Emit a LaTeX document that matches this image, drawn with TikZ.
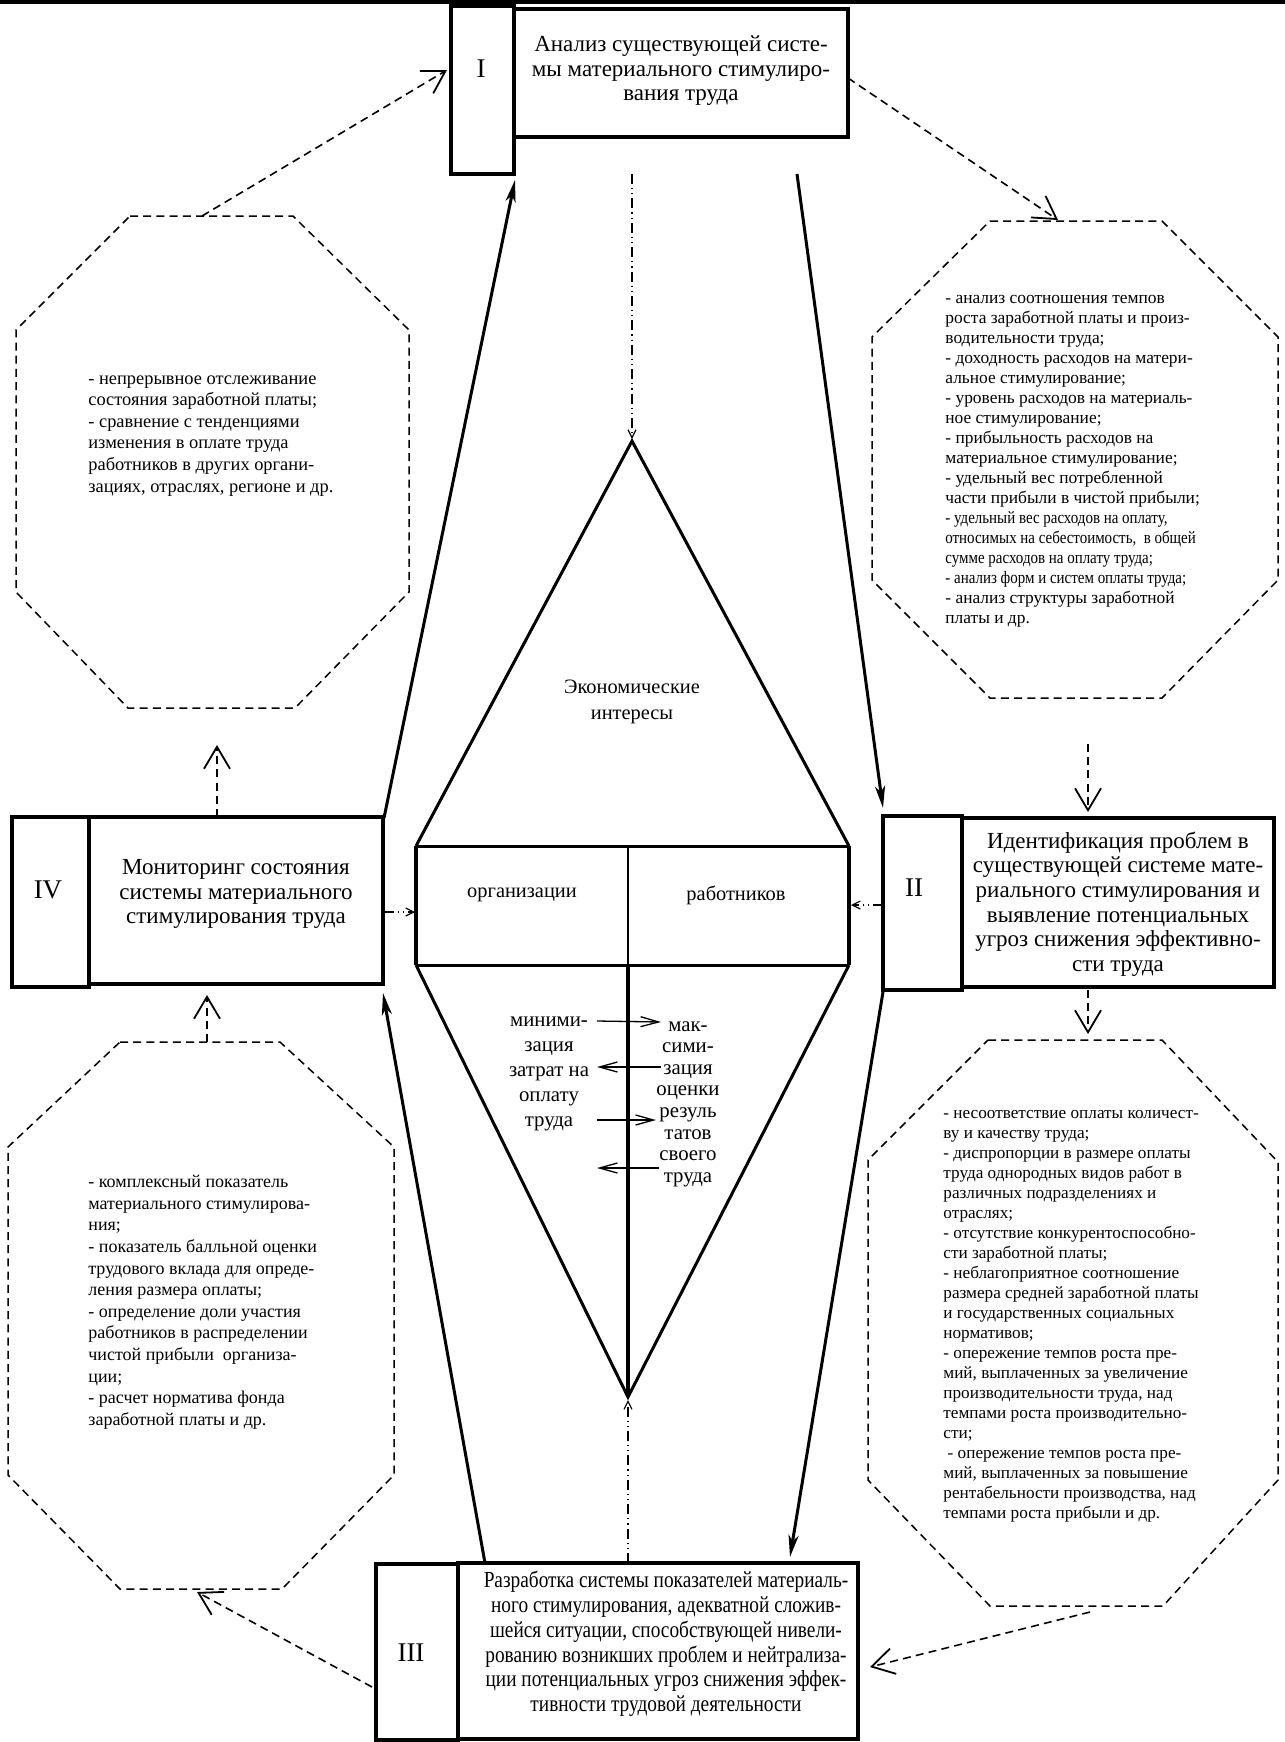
\documentclass[tikz,border=0pt]{standalone}
\usepackage{fontspec}
\setmainfont{Liberation Serif}
\newfontfamily\condfont[FakeStretch=0.84]{Liberation Serif}
\newfontfamily\condfontb[FakeStretch=0.86]{Liberation Serif}
\usetikzlibrary{arrows.meta}
\begin{document}
\begin{tikzpicture}[x=0.5pt,y=-0.5pt,
  box/.style={draw, line width=1.7pt, inner sep=0pt},
  boxtext/.style={font=\fontsize{11.5}{12.3}\selectfont, align=center, inner sep=0pt},
  roman/.style={font=\fontsize{13.5}{14}\selectfont, inner sep=0pt},
  octline/.style={draw, line width=0.75pt, dash pattern=on 4pt off 2.6pt},
  octtext/.style={align=left, inner sep=0pt, anchor=north west},
  ctext/.style={font=\fontsize{10.2}{13}\selectfont, align=center, inner sep=0pt},
  thickarrow/.style={line width=1.5pt, -{Stealth[length=11pt,width=5pt,inset=3pt]}},
  dasharrow/.style={line width=0.8pt, dash pattern=on 4pt off 2.6pt, -{Straight Barb[length=11pt,width=13pt,line width=0.9pt]}},
  dotarrow/.style={line width=0.8pt, dash pattern=on 5pt off 2pt on 0.6pt off 2pt on 0.6pt off 2pt, -{Straight Barb[length=4pt,width=4pt,line width=0.6pt]}},
  midarrow/.style={line width=0.65pt, -{Straight Barb[length=9pt,width=5pt,line width=0.65pt]}},
]
\useasboundingbox (0,0) rectangle (1285,1742);
\fill (0,0) rectangle (1285,3.5);

% ---------- boxes ----------
\node[box, minimum width=31.5pt, minimum height=84pt] (n1) at (482.5,90) {};
\node[box, minimum width=167pt, minimum height=64pt] (b1) at (681,73) {};
\node[roman] (l1) at (481,69) {I};
\node[boxtext] (t1) at (681,71) {Анализ существующей систе-\\мы материального стимулиро-\\вания труда};

\node[box, minimum width=39.5pt, minimum height=87pt] (n2) at (922.5,903) {};
\node[box, minimum width=156pt, minimum height=84.5pt] (b2) at (1118,902.5) {};
\node[roman] (l2) at (914,888) {II};
\node[boxtext] (t2) at (1118,904) {Идентификация проблем в\\существующей системе мате-\\риального стимулирования и\\выявление потенциальных\\угроз снижения эффективно-\\сти труда};

\node[box, minimum width=38.5pt, minimum height=85pt] (n4) at (50.5,902) {};
\node[box, minimum width=147pt, minimum height=83.5pt] (b4) at (236,900.5) {};
\node[roman] (l4) at (48,890) {IV};
\node[boxtext] (t4) at (236,894) {Мониторинг состояния\\системы материального\\стимулирования труда};

\node[box, minimum width=41pt, minimum height=88pt] (n3) at (417,1652) {};
\node[box, minimum width=200pt, minimum height=88pt] (b3) at (658,1651) {};
\node[roman] (l3) at (411,1653) {III};
\node[boxtext, font=\condfont\fontsize{11.5}{12.4}\selectfont] (t3) at (666,1644) {Разработка системы показателей материаль-\\ного стимулирования, адекватной сложив-\\шейся ситуации, способствующей нивели-\\рованию возникших проблем и нейтрализа-\\ции потенциальных угроз снижения эффек-\\тивности трудовой деятельности};

% ---------- central figure ----------
\coordinate (apexT) at (632,441);
\coordinate (rTL) at (416,846);
\coordinate (rTR) at (849,846);
\coordinate (rBL) at (416,965);
\coordinate (rBR) at (849,965);
\coordinate (divT) at (628,846);
\coordinate (divB) at (628,965);
\coordinate (apexB) at (628,1397);
\draw[line width=1.5pt, line join=miter] (rTL) -- (apexT) -- (rTR);
\draw[line width=1.5pt] (rTL) -- (rTR);
\draw[line width=1.5pt] (rBL) -- (rBR);
\draw[line width=2.1pt] (rTL) -- (rBL);
\draw[line width=2.1pt] (rTR) -- (rBR);
\draw[line width=1.4pt] (divT) -- (divB);
\draw[line width=1.5pt, line join=miter] (rBL) -- (apexB) -- (rBR);
\draw[line width=2.2pt] (divB) -- (apexB);

\node[ctext] (eco) at (632,702) {Экономические\\интересы};
\node[ctext] (org) at (522,895) {организации};
\node[ctext] (rab) at (736,895) {работников};
\node[ctext, font=\fontsize{10.4}{12.4}\selectfont] (minz) at (549,1074) {миними-\\зация\\затрат на\\оплату\\труда};
\node[ctext, font=\fontsize{10.4}{10.8}\selectfont] (maxz) at (688,1104) {мак-\\сими-\\зация\\оценки\\резуль\\татов\\своего\\труда};

\coordinate (m1s) at (597,1021); \coordinate (m1e) at (661,1022);
\coordinate (m2s) at (661,1067); \coordinate (m2e) at (597,1067);
\coordinate (m3s) at (597,1120); \coordinate (m3e) at (656,1120);
\coordinate (m4s) at (659,1168); \coordinate (m4e) at (597,1168);
\draw[midarrow] (m1s) -- (m1e);
\draw[midarrow] (m2s) -- (m2e);
\draw[midarrow] (m3s) -- (m3e);
\draw[midarrow] (m4s) -- (m4e);

% ---------- octagons ----------
\draw[octline] (130,216) -- (293,216) -- (409,330) -- (409,592) -- (295,708) -- (128,708) -- (16,592) -- (16,330) -- cycle;
\draw[octline] (990,221) -- (1162,221) -- (1278,337) -- (1278,580) -- (1162,698) -- (990,698) -- (872,580) -- (872,337) -- cycle;
\draw[octline] (120,1042) -- (280,1042) -- (394,1147) -- (394,1475) -- (282,1589) -- (120,1589) -- (8,1475) -- (8,1147) -- cycle;
\draw[octline] (988,1040) -- (1162,1040) -- (1278,1162) -- (1278,1480) -- (1163,1606) -- (990,1606) -- (868,1480) -- (868,1160) -- cycle;

\node[octtext, font=\fontsize{9.2}{10.8}\selectfont] (o1) at (88,375) {- непрерывное отслеживание\\состояния заработной платы;\\- сравнение с тенденциями\\изменения в оплате труда\\работников в других органи-\\зациях, отраслях, регионе и др.};

\node[octtext, font=\fontsize{8.7}{10}\selectfont] (o2) at (945,295) {- анализ соотношения темпов\\роста заработной платы и произ-\\водительности труда;\\- доходность расходов на матери-\\альное стимулирование;\\- уровень расходов на материаль-\\ное стимулирование;\\- прибыльность расходов на\\материальное стимулирование;\\- удельный вес потребленной\\части прибыли в чистой прибыли;\\{\condfontb - удельный вес расходов на оплату,}\\{\condfontb относимых на себестоимость,\ \ в общей}\\{\condfontb сумме расходов на оплату труда;}\\{\condfontb - анализ форм и систем оплаты труда;}\\- анализ структуры заработной\\платы и др.};

\node[octtext, font=\fontsize{9}{10.8}\selectfont] (o4) at (88,1175) {- комплексный показатель\\материального стимулирова-\\ния;\\- показатель балльной оценки\\трудового вклада для опреде-\\ления размера оплаты;\\- определение доли участия\\работников в распределении\\чистой прибыли\ \ организа-\\ции;\\- расчет норматива фонда\\заработной платы и др.};

\node[octtext, font=\fontsize{8.6}{10}\selectfont] (o3) at (943,1110) {- несоответствие оплаты количест-\\ву и качеству труда;\\- диспропорции в размере оплаты\\труда однородных видов работ в\\различных подразделениях и\\отраслях;\\- отсутствие конкурентоспособно-\\сти заработной платы;\\- неблагоприятное соотношение\\размера средней заработной платы\\и государственных социальных\\нормативов;\\- опережение темпов роста пре-\\мий, выплаченных за увеличение\\производительности труда, над\\темпами роста производительно-\\сти;\\\hspace{0.25em}- опережение темпов роста пре-\\мий, выплаченных за повышение\\рентабельности производства, над\\темпами роста прибыли и др.};

% ---------- thick arrows ----------
\coordinate (a1s) at (384,818); \coordinate (a1e) at (515,180);
\coordinate (a2s) at (797,174); \coordinate (a2e) at (883,808);
\coordinate (a3s) at (883,992); \coordinate (a3e) at (790,1557);
\coordinate (a4s) at (485,1563); \coordinate (a4e) at (383,993);
\draw[thickarrow] (a1s) -- (a1e);
\draw[thickarrow] (a2s) -- (a2e);
\draw[thickarrow] (a3s) -- (a3e);
\draw[thickarrow] (a4s) -- (a4e);

% ---------- dashed arrows ----------
\coordinate (d1s) at (202,216); \coordinate (d1e) at (447,70);
\coordinate (d2s) at (848,78); \coordinate (d2e) at (1058,220);
\coordinate (d3s) at (1088,744); \coordinate (d3e) at (1088,812);
\coordinate (d4s) at (1088,990); \coordinate (d4e) at (1088,1034);
\coordinate (d5s) at (1090,1612); \coordinate (d5e) at (870,1667);
\coordinate (d6s) at (372,1687); \coordinate (d6e) at (197,1592);
\coordinate (d7s) at (207,1042); \coordinate (d7e) at (207,995);
\coordinate (d8s) at (217,817); \coordinate (d8e) at (217,745);
\draw[dasharrow] (d1s) -- (d1e);
\draw[dasharrow] (d2s) -- (d2e);
\draw[dasharrow] (d3s) -- (d3e);
\draw[dasharrow] (d4s) -- (d4e);
\draw[dasharrow] (d5s) -- (d5e);
\draw[dasharrow] (d6s) -- (d6e);
\draw[dasharrow] (d7s) -- (d7e);
\draw[dasharrow] (d8s) -- (d8e);

% ---------- dash-dot arrows ----------
\coordinate (c1s) at (632,174); \coordinate (c1e) at (632,439);
\coordinate (c2s) at (628,1563); \coordinate (c2e) at (628,1400);
\coordinate (c3s) at (384,912); \coordinate (c3e) at (415,912);
\coordinate (c4s) at (883,905); \coordinate (c4e) at (851,905);
\draw[dotarrow] (c1s) -- (c1e);
\draw[dotarrow] (c2s) -- (c2e);
\draw[dotarrow] (c3s) -- (c3e);
\draw[dotarrow] (c4s) -- (c4e);
\end{tikzpicture}
\end{document}
